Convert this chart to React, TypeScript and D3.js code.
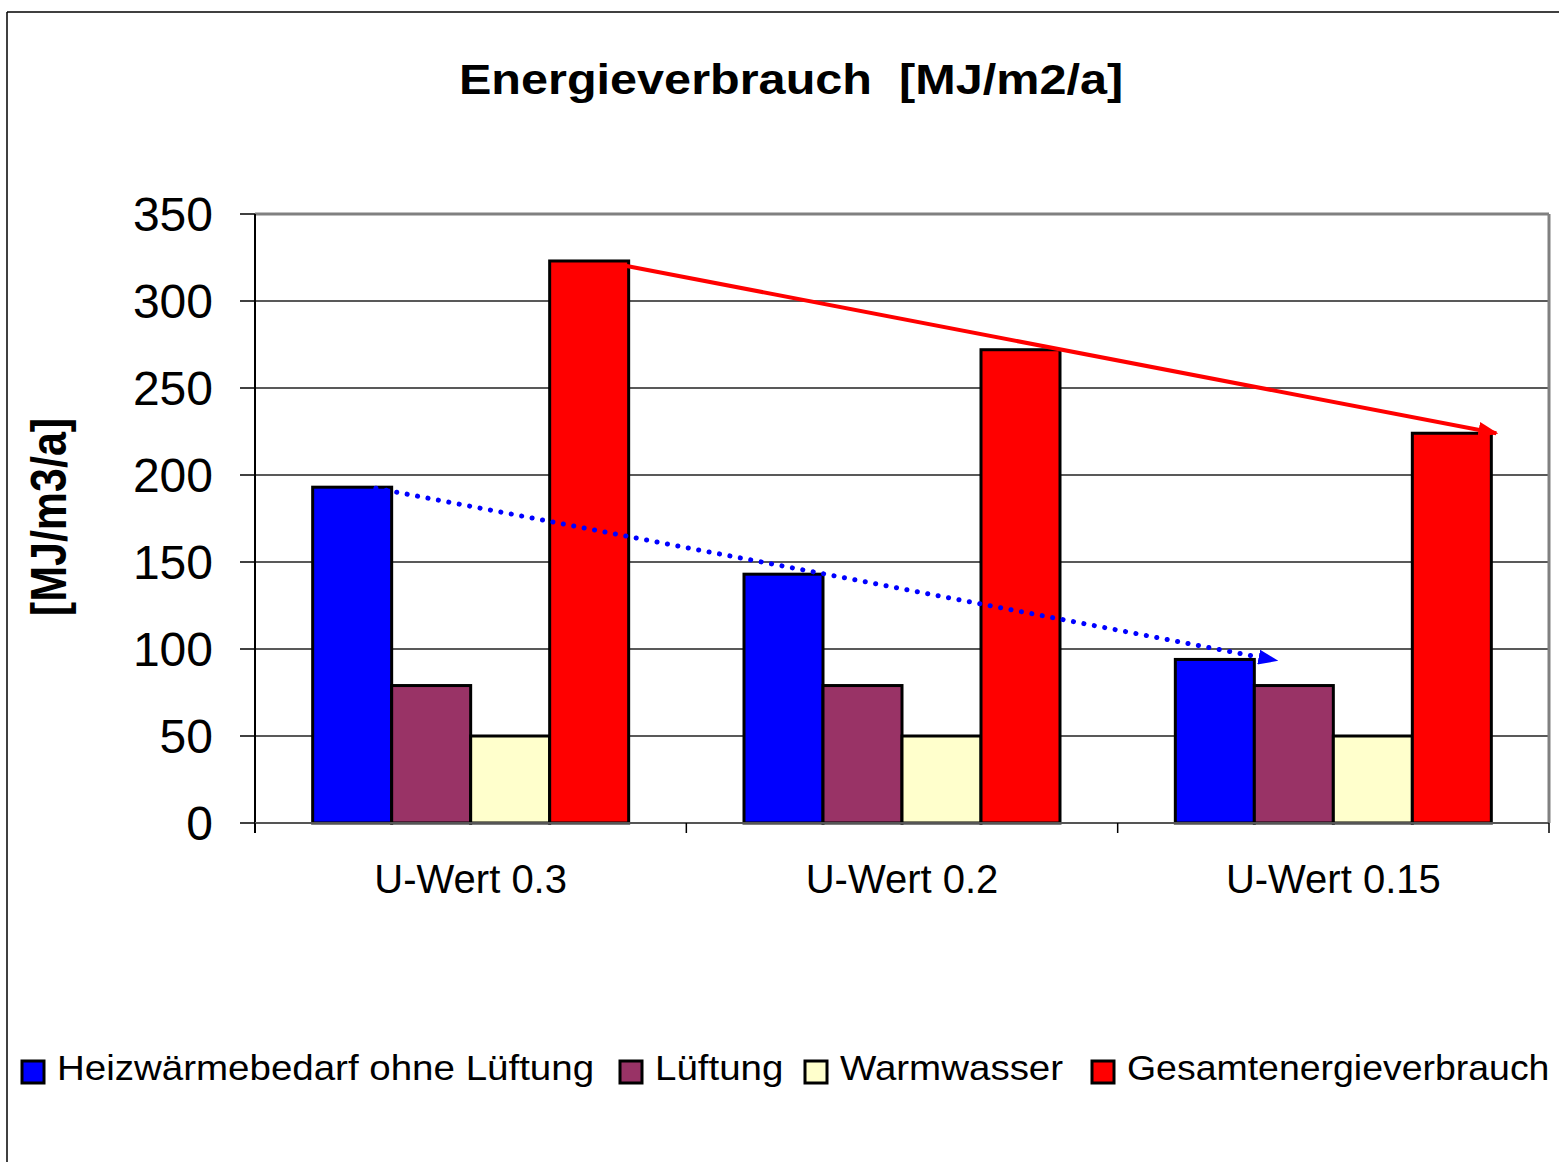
import * as d3 from 'd3';

const categories = ['U-Wert 0.3', 'U-Wert 0.2', 'U-Wert 0.15'];
const seriesNames = ['Heizwärmebedarf ohne Lüftung', 'Lüftung', 'Warmwasser', 'Gesamtenergieverbrauch'];
const heizwaerme = [193, 143, 94];
const lueftung = [79, 79, 79];
const warmwasser = [50, 50, 50];
const gesamt = [323, 272, 224];
const yTicks = [0, 50, 100, 150, 200, 250, 300, 350];
const colors = ['#0000ff', '#993366', '#ffffcc', '#ff0000'];

const W = 1559;
const H = 1162;
const font = "'Liberation Sans', Arial, sans-serif";

export default function App() {
  const left = 255, right = 1549, top = 214, bottom = 823;
  const series = [heizwaerme, lueftung, warmwasser, gesamt];

  const x0 = d3.scaleBand().domain(categories).range([left, right]).paddingInner(0).paddingOuter(0);
  const x1 = d3.scaleBand().domain(seriesNames).range([0, x0.bandwidth()]).paddingInner(0).paddingOuter(0.73);
  const y = d3.scaleLinear().domain([0, 350]).range([bottom, top]);
  const bw = x1.bandwidth();

  // trend arrows
  const redStart: [number, number] = [x0(categories[0])! + x1(seriesNames[3])! + bw - 2, y(gesamt[0]) + 5];
  const redEnd: [number, number] = [x0(categories[2])! + x1(seriesNames[3])! + bw + 5, y(gesamt[2])];
  const blueStart: [number, number] = [x0(categories[0])! + x1(seriesNames[0])! + bw * 0.8, y(heizwaerme[0]) + 1];
  const blueEnd: [number, number] = [x0(categories[2])! + x1(seriesNames[0])! + bw + 22, y(heizwaerme[2]) + 1];

  const line = d3.line();
  const angle = Math.atan2(blueEnd[1] - blueStart[1], blueEnd[0] - blueStart[0]);
  const blueDotEnd: [number, number] = [blueEnd[0] - 20 * Math.cos(angle), blueEnd[1] - 20 * Math.sin(angle)];

  const legendX = [22, 620, 805, 1092];

  return (
    <svg width={W} height={H} style={{ position: 'absolute', left: 0, top: 0, background: '#fff' }}
      fontFamily={font}>
      <defs>
        <marker id="arrRed" viewBox="0 0 10 10" refX="9" refY="5" markerWidth="20" markerHeight="16"
          markerUnits="userSpaceOnUse" orient="auto" preserveAspectRatio="none">
          <path d="M0,0 L10,5 L0,10 z" fill="#ff0000" />
        </marker>
        <marker id="arrBlue" viewBox="0 0 10 10" refX="9" refY="5" markerWidth="20" markerHeight="15"
          markerUnits="userSpaceOnUse" orient="auto" preserveAspectRatio="none">
          <path d="M0,0 L10,5 L0,10 z" fill="#0000ff" />
        </marker>
      </defs>

      {/* outer frame */}
      <line x1={7} y1={12} x2={W} y2={12} stroke="#000" strokeWidth={1.5} />
      <line x1={7} y1={12} x2={7} y2={H} stroke="#000" strokeWidth={1.5} />

      {/* title */}
      <text transform={`translate(791,94) scale(1.13,1)`} textAnchor="middle" fontSize={43}
        fontWeight="bold" style={{ whiteSpace: 'pre' }}>Energieverbrauch  [MJ/m2/a]</text>

      {/* y axis title */}
      <text transform="translate(66,517) scale(1.15,1) rotate(-90)" textAnchor="middle" fontSize={43}
        fontWeight="bold">[MJ/m3/a]</text>

      {/* grid */}
      {yTicks.filter(t => t > 0 && t < 350).map(t => (
        <line key={t} x1={left} x2={right} y1={y(t)} y2={y(t)} stroke="#222" strokeWidth={1.5} />
      ))}
      {/* plot border */}
      <line x1={left} x2={right} y1={top} y2={top} stroke="#808080" strokeWidth={3} />
      <line x1={right} x2={right} y1={top} y2={bottom} stroke="#808080" strokeWidth={3} />

      {/* bars */}
      {categories.map((c, ci) => (
        <g key={c}>
          {series.map((s, si) => (
            <rect key={si} x={x0(c)! + x1(seriesNames[si])!} y={y(s[ci])} width={bw}
              height={bottom - y(s[ci])} fill={colors[si]} stroke="#000" strokeWidth={3} />
          ))}
        </g>
      ))}

      {/* axes */}
      <line x1={left} x2={left} y1={top} y2={bottom + 10} stroke="#000" strokeWidth={2} />
      <line x1={left} x2={right} y1={bottom} y2={bottom} stroke="#555" strokeWidth={2} />
      {yTicks.map(t => (
        <g key={t}>
          <line x1={left - 15} x2={left} y1={y(t)} y2={y(t)} stroke="#000" strokeWidth={1.5} />
          <text x={213} y={y(t) + 17} textAnchor="end" fontSize={48}>{t}</text>
        </g>
      ))}
      {[...categories.map(c => x0(c)!), right].map((xv, i) => (
        <line key={i} x1={xv} x2={xv} y1={bottom} y2={bottom + 10} stroke="#000" strokeWidth={1.5} />
      ))}
      {categories.map(c => (
        <text key={c} x={x0(c)! + x0.bandwidth() / 2} y={893} textAnchor="middle" fontSize={40}>{c}</text>
      ))}

      {/* trend arrows */}
      <path d={line([redStart, redEnd])!} stroke="#ff0000" strokeWidth={4} fill="none"
        markerEnd="url(#arrRed)" />
      <path d={line([blueStart, blueDotEnd])!} stroke="#0000ff" strokeWidth={5}
        fill="none" strokeLinecap="round" strokeDasharray="0.1 10.5" />
      <path d={line([[blueEnd[0] - 2 * Math.cos(angle), blueEnd[1] - 2 * Math.sin(angle)], blueEnd])!}
        stroke="none" fill="none" markerEnd="url(#arrBlue)" />

      {/* legend */}
      {seriesNames.map((n, i) => (
        <g key={n}>
          <rect x={legendX[i]} y={1061} width={22} height={22} fill={colors[i]} stroke="#000" strokeWidth={3} />
          <text transform={`translate(${legendX[i] + 35},1080) scale(${i === 3 ? 1.07 : 1.1},1)`}
            fontSize={35}>{n}</text>
        </g>
      ))}
    </svg>
  );
}
